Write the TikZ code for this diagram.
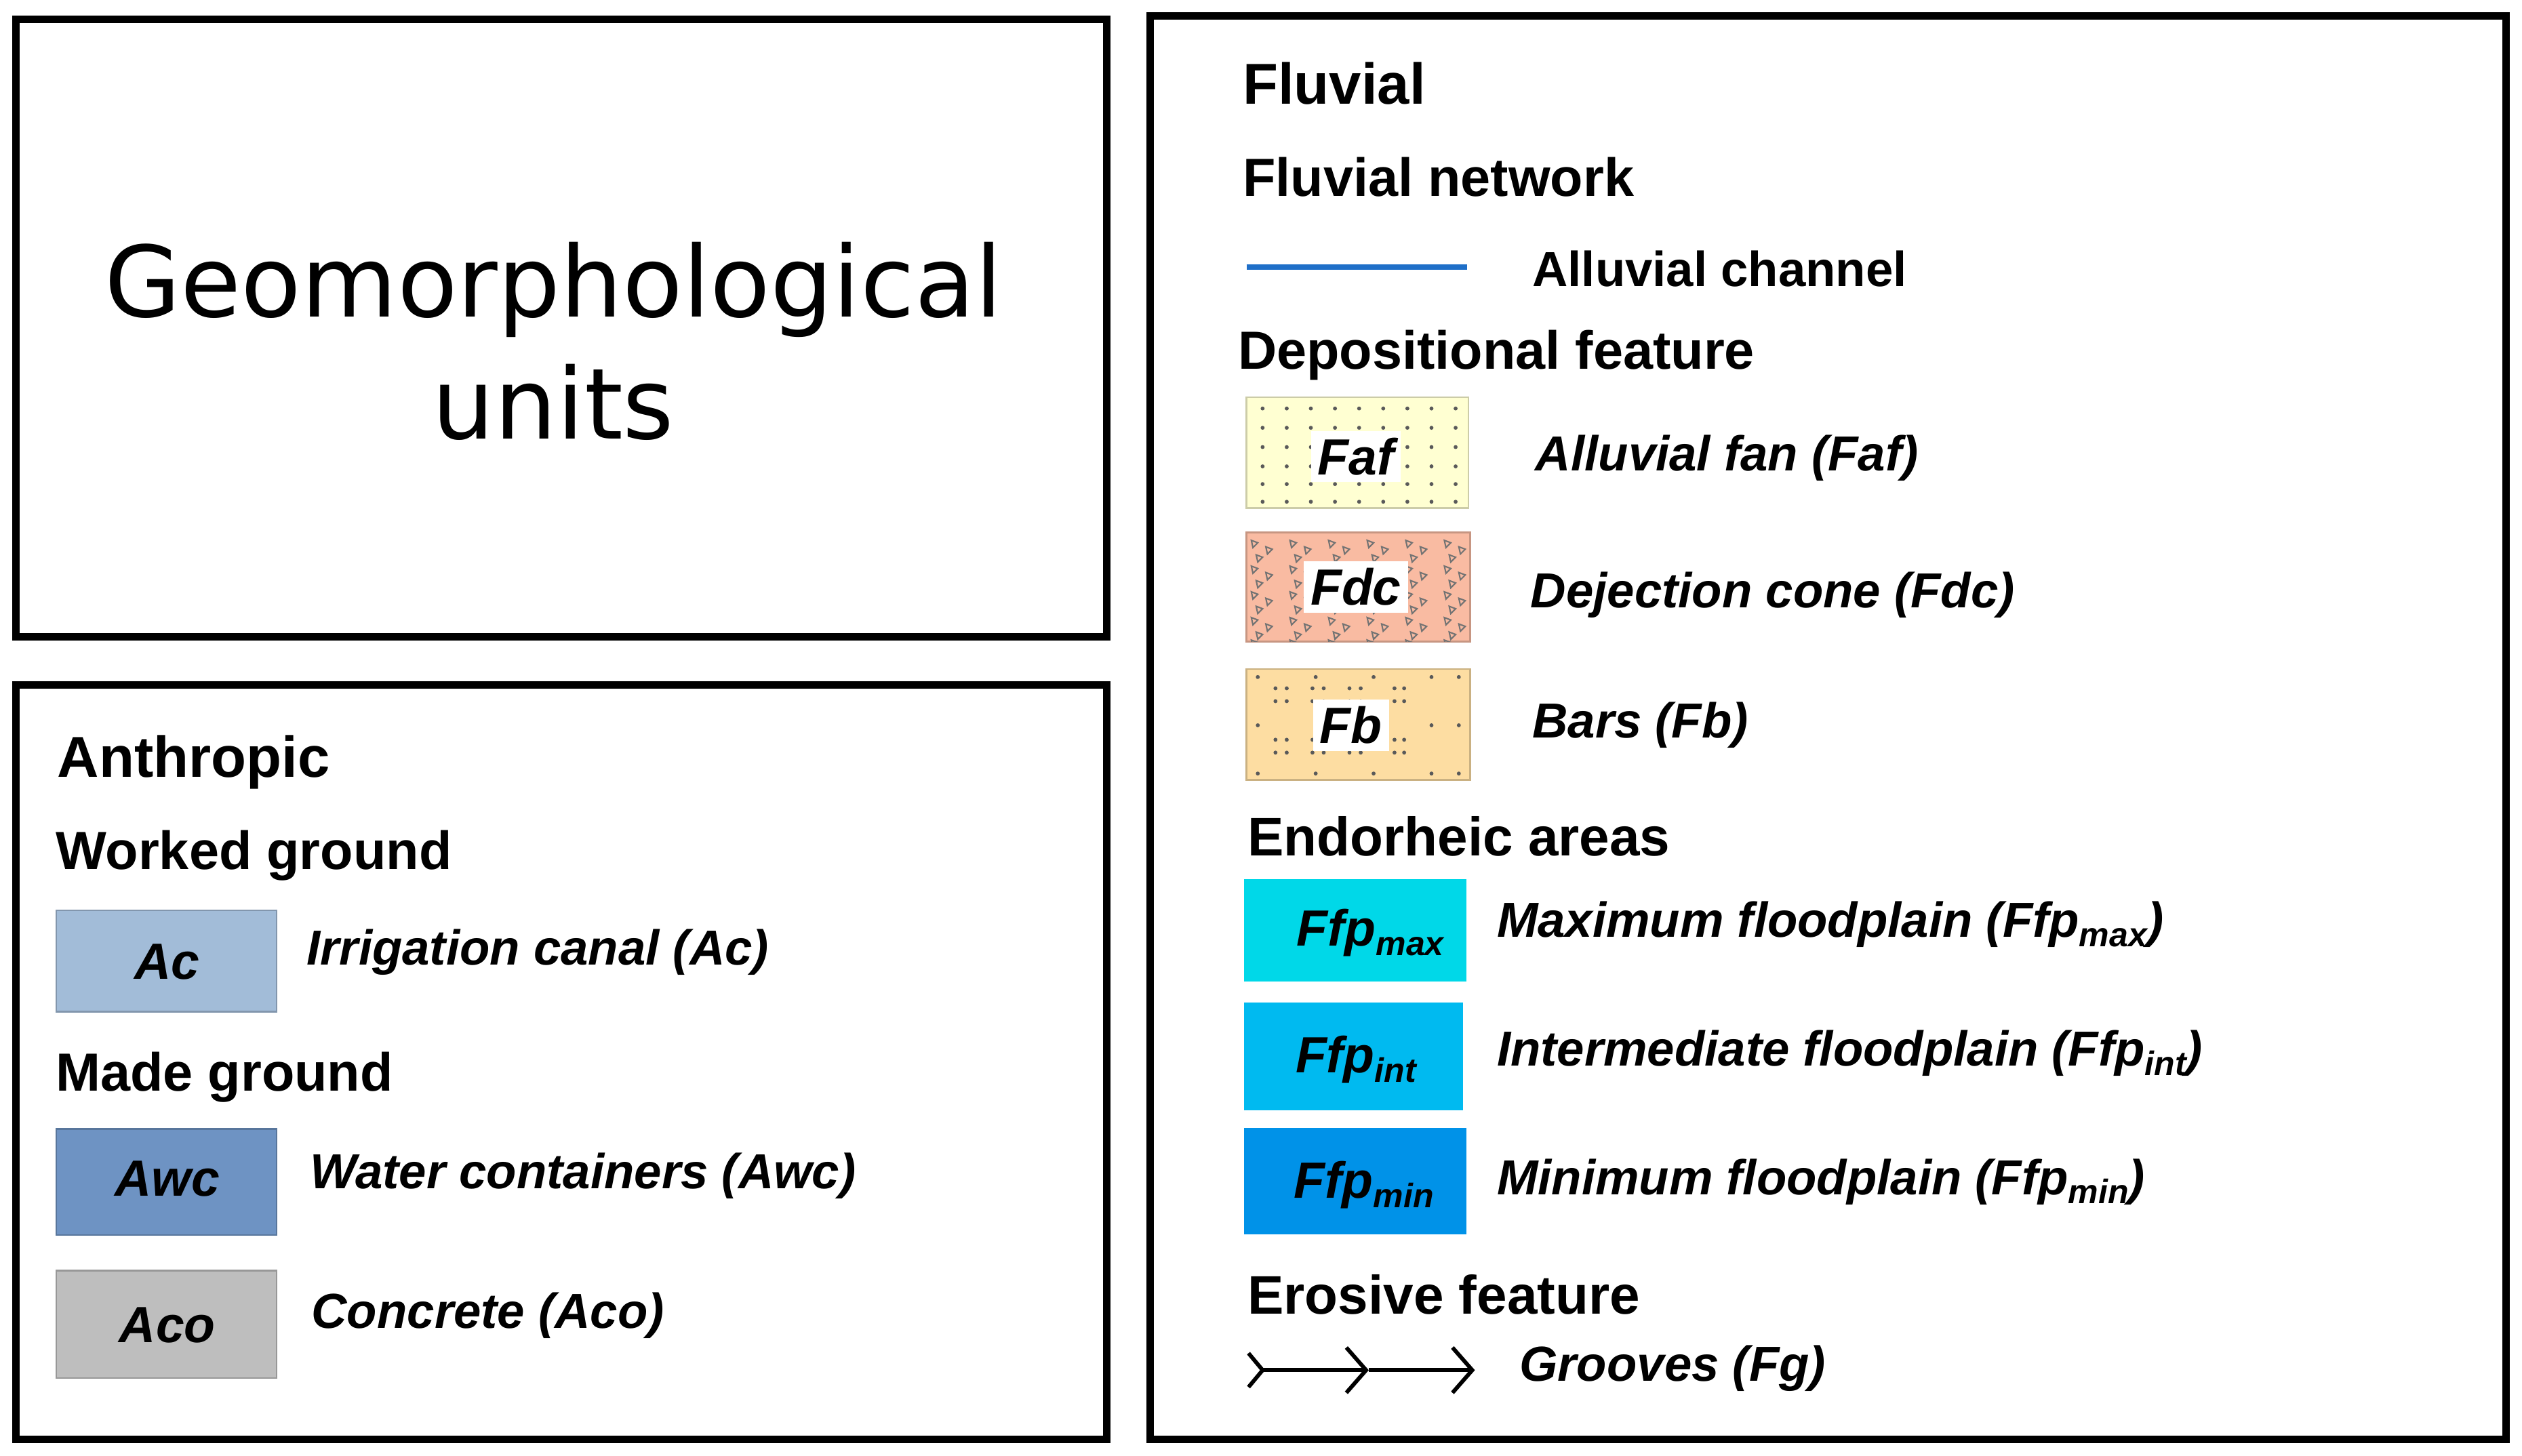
\documentclass[tikz,border=0pt]{standalone}
\usepackage{fontspec}
\setmainfont{Liberation Sans}
\newfontfamily\titlefont{DejaVu Sans}
\usetikzlibrary{positioning,arrows.meta}
\definecolor{acblue}{HTML}{A2BCD8}
\definecolor{awcblue}{HTML}{6E93C3}
\definecolor{acogray}{HTML}{BEBEBE}
\definecolor{fafyellow}{HTML}{FFFFD2}
\definecolor{fdcsalmon}{HTML}{F9BBA2}
\definecolor{fbtan}{HTML}{FDDDA2}
\definecolor{maxcyan}{HTML}{00D8E8}
\definecolor{intcyan}{HTML}{00BAF0}
\definecolor{minblue}{HTML}{0092E8}
\definecolor{chanblue}{HTML}{1F6FC8}
\tikzset{
  frame/.style={draw, line width=1.3pt},
  head/.style={anchor=west, inner sep=0pt, font=\fontsize{10.2}{12}\selectfont\bfseries},
  subhead/.style={anchor=west, inner sep=0pt, font=\fontsize{9.5}{11}\selectfont\bfseries},
  key/.style={anchor=west, inner sep=0pt, font=\fontsize{8.7}{11}\selectfont\bfseries\itshape},
  swatch/.style={draw=#1!80!black, fill=#1, line width=0.3pt},
  tag/.style={inner sep=1.2pt, font=\fontsize{9}{11}\selectfont\bfseries\itshape},
  dot/.style={fill=black!65, inner sep=0pt, outer sep=0pt, minimum size=0.7pt, circle},
}
\newcommand{\lowtxt}[1]{\raisebox{-0.35ex}{\fontsize{6}{7}\selectfont #1}}
\begin{document}
\begin{tikzpicture}[x=0.01cm, y=-0.01cm]
        \useasboundingbox (0,0) rectangle (1568,905);
        % Frames
        \draw[frame] (10,12) rectangle (688,396);
        \draw[frame] (10,426) rectangle (688,895);
        \draw[frame] (715,10) rectangle (1558,895);
        \node[align=center, font=\titlefont\fontsize{17.4}{21.6}\selectfont] (title) at (344,212) {Geomorphological\\units};
        % Anthropic
        \node[head] (anth) at (35,474) {Anthropic};
        \node[subhead] (worked) at (34,532) {Worked ground};
        \draw[swatch=acblue] (35,566) rectangle (172,629);
        \node[tag] (ac) at (104,598) {Ac};
        \node[key] (acl) at (190,592) {Irrigation canal (Ac)};
        \node[subhead] (made) at (34,670) {Made ground};
        \draw[swatch=awcblue] (35,702) rectangle (172,768);
        \node[tag] (awc) at (104,733) {Awc};
        \node[key] (awcl) at (192,731) {Water containers (Awc)};
        \draw[swatch=acogray] (35,790) rectangle (172,857);
        \node[tag] (aco) at (104,824) {Aco};
        \node[key] (acol) at (193,818) {Concrete (Aco)};
        % Fluvial
        \node[head] (fluv) at (772,52) {Fluvial};
        \node[subhead] (net) at (772,110) {Fluvial network};
        \coordinate (c1) at (775,166);
        \coordinate (c2) at (912,166);
        \draw[chanblue, line width=1pt] (c1) -- (c2);
        \node[subhead, font=\fontsize{8.7}{11}\selectfont\bfseries] (chan) at (952,167) {Alluvial channel};
        \node[subhead] (dep) at (769,221) {Depositional feature};
        % Faf
        \draw[swatch=fafyellow] (775,247) rectangle (913,316);
        \foreach \x in {785,800,815,830,845,860,875,890,905}
          \foreach \y in {254,266,278,290,301,312}
            \node[dot] at (\x,\y) {};
        \node[tag, fill=white] (faf) at (843,284) {Faf};
        \node[key] (fafl) at (954,285) {Alluvial fan (Faf)};
        % Fdc
        \draw[swatch=fdcsalmon] (775,331) rectangle (914,399);
        \begin{scope}
          \clip (775,331) rectangle (914,399);
          \foreach \x in {778,802,826,850,874,898}
            \foreach \y in {336,352,368,384,398}
              \foreach \dx/\dy in {0/0,9/4,3/9}
                \draw[black!55, line width=0.25pt] (\x+\dx,\y+\dy) -- ++(4,1.5) -- ++(-3,3) -- cycle;
        \end{scope}
        \node[tag, fill=white] (fdc) at (843,365) {Fdc};
        \node[key] (fdcl) at (951,370) {Dejection cone (Fdc)};
        % Fb
        \draw[swatch=fbtan] (775,416) rectangle (914,485);
        \foreach \x in {782,818,854,890,907}
          \foreach \y in {421,451,481}
            \node[dot] at (\x,\y) {};
        \foreach \x in {793,800,816,823,839,846,867,873}
          \foreach \y in {428,436,460,468}
            \node[dot] at (\x,\y) {};
        \node[tag, fill=white] (fb) at (840,451) {Fb};
        \node[key] (fbl) at (952,451) {Bars (Fb)};
        % Endorheic
        \node[head, font=\fontsize{9.6}{11}\selectfont\bfseries] (endo) at (775,520) {Endorheic areas};
        \draw[swatch=maxcyan, draw=maxcyan] (774,547) rectangle (911,610);
        \node[tag] (fmax) at (852,580) {Ffp\lowtxt{max}};
        \node[key] (fmaxl) at (930,575) {Maximum floodplain (Ffp\lowtxt{max})};
        \draw[swatch=intcyan, draw=intcyan] (774,624) rectangle (909,690);
        \node[tag] (fint) at (843,659) {Ffp\lowtxt{int}};
        \node[key] (fintl) at (930,655) {Intermediate floodplain (Ffp\lowtxt{int})};
        \draw[swatch=minblue, draw=minblue] (774,702) rectangle (911,767);
        \node[tag] (fmin) at (848,737) {Ffp\lowtxt{min}};
        \node[key] (fminl) at (930,735) {Minimum floodplain (Ffp\lowtxt{min})};
        % Erosive
        \node[head, font=\fontsize{9.6}{11}\selectfont\bfseries] (eros) at (775,805) {Erosive feature};
        \coordinate (g1) at (775,852);
        \coordinate (g2) at (851,852);
        \coordinate (g3) at (917,852);
        \draw[line width=0.7pt, {Straight Barb[reversed, length=2.5pt, width=6pt]}-{Straight Barb[length=3.5pt, width=8pt]}] (g1) -- (g2);
        \draw[line width=0.7pt, -{Straight Barb[length=3.5pt, width=8pt]}] (g2) -- (g3);
        \node[key] (groove) at (944,851) {Grooves (Fg)};
\end{tikzpicture}
\end{document}
